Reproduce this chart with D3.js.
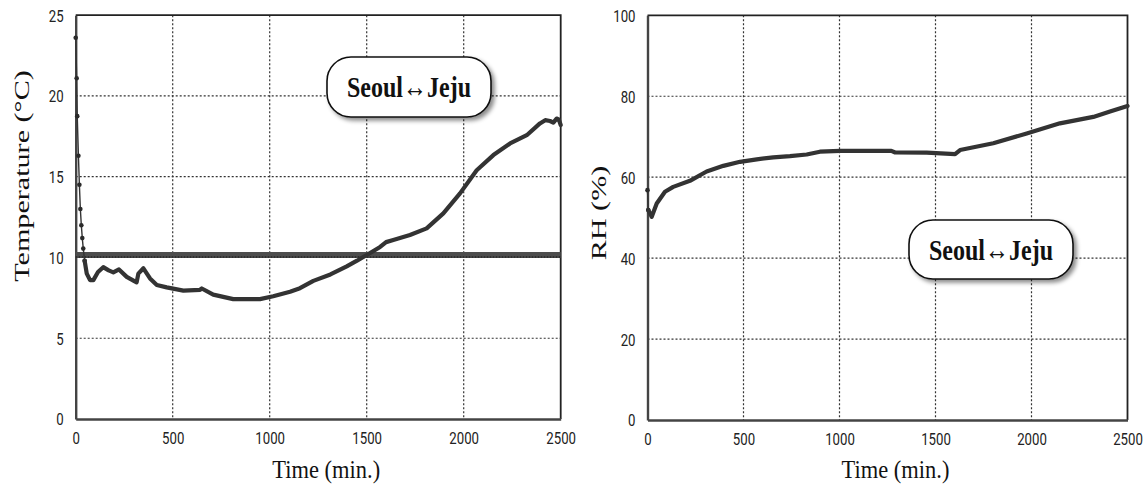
<!DOCTYPE html>
<html>
<head>
<meta charset="utf-8">
<script src="https://cdn.jsdelivr.net/npm/d3@7"></script>
<style>
  body { margin: 0; background: #fff; }
  svg { display: block; }
</style>
</head>
<body>
<svg id="chart" width="1147" height="488"></svg>
<script>
// temperature record (min, °C)
const tempTime = [0, 5, 8, 14, 19, 24, 29, 34, 39, 46, 57, 74, 91, 115, 142, 170, 194, 223, 263, 300, 314, 323, 349, 383, 418, 469, 555, 641, 650, 709, 812, 950, 1018, 1105, 1156, 1225, 1313, 1397, 1450, 1500, 1569, 1600, 1637, 1723, 1809, 1895, 1981, 2067, 2153, 2239, 2325, 2393, 2420, 2445, 2462, 2479, 2490, 2500];
const tempValue = [23.6, 21.1, 18.75, 16.3, 14.5, 13.0, 12.0, 11.2, 10.55, 9.8, 9.0, 8.6, 8.6, 9.1, 9.4, 9.2, 9.08, 9.26, 8.8, 8.55, 8.46, 9.0, 9.33, 8.7, 8.3, 8.15, 7.95, 8.0, 8.08, 7.7, 7.42, 7.42, 7.6, 7.88, 8.1, 8.55, 8.95, 9.45, 9.8, 10.15, 10.65, 10.95, 11.08, 11.39, 11.8, 12.73, 13.97, 15.4, 16.34, 17.06, 17.57, 18.3, 18.5, 18.45, 18.35, 18.6, 18.55, 18.2];
const tempThreshold = 10.15;

// relative humidity record (min, %)
const rhTime = [0, 4, 22, 48, 91, 134, 221, 308, 395, 482, 569, 655, 742, 829, 898, 1003, 1176, 1270, 1290, 1454, 1602, 1628, 1801, 1975, 2148, 2322, 2409, 2500];
const rhValue = [56.8, 51.9, 50.2, 53.5, 56.4, 57.6, 59.1, 61.4, 62.8, 63.8, 64.4, 64.9, 65.2, 65.6, 66.3, 66.5, 66.5, 66.5, 66.1, 66.05, 65.7, 66.7, 68.4, 70.8, 73.3, 74.9, 76.2, 77.6];

const xTicks = [0, 500, 1000, 1500, 2000, 2500];
const tempTicks = [0, 5, 10, 15, 20, 25];
const rhTicks = [0, 20, 40, 60, 80, 100];
const routeLabel = "Seoul\u2194Jeju";

const svg = d3.select("#chart");

const defs = svg.append("defs");
defs.append("filter")
    .attr("id", "shadow")
    .attr("x", "-20%").attr("y", "-30%").attr("width", "150%").attr("height", "170%")
    .append("feDropShadow")
    .attr("dx", 3).attr("dy", 3)
    .attr("stdDeviation", 2)
    .attr("flood-color", "#000")
    .attr("flood-opacity", 0.45);

function drawPanel({time, values, yMax, yTicks, box, yTitle, dotsUntil, threshold, label, labelBox}) {
    const x = d3.scaleLinear().domain([0, 2500]).range([box.x0, box.x1]);
    const y = d3.scaleLinear().domain([0, yMax]).range([box.y1, box.y0]);
    const g = svg.append("g");

    // dotted grid
    const grid = g.append("g")
        .attr("stroke", "#333")
        .attr("stroke-width", 1.2)
        .attr("stroke-dasharray", "2,2");
    grid.selectAll(".vx")
        .data(xTicks.slice(1, -1))
        .join("line")
        .attr("x1", d => x(d)).attr("x2", d => x(d))
        .attr("y1", box.y0).attr("y2", box.y1);
    grid.selectAll(".hy")
        .data(yTicks.slice(1, -1))
        .join("line")
        .attr("x1", box.x0).attr("x2", box.x1)
        .attr("y1", d => y(d)).attr("y2", d => y(d));

    // frame (top + right)
    g.append("path")
        .attr("d", `M${box.x0},${box.y0}H${box.x1}V${box.y1}`)
        .attr("fill", "none")
        .attr("stroke", "#222")
        .attr("stroke-width", 1.8);

    const xAxis = g.append("g")
        .attr("transform", `translate(0,${box.y1})`)
        .call(d3.axisBottom(x).tickValues(xTicks).tickSize(0).tickPadding(13).tickFormat(d3.format("d")));
    const yAxis = g.append("g")
        .attr("transform", `translate(${box.x0},0)`)
        .call(d3.axisLeft(y).tickValues(yTicks).tickSize(0).tickPadding(12).tickFormat(d3.format("d")));

    [xAxis, yAxis].forEach(a => {
        a.select(".domain").attr("stroke", "#444").attr("stroke-width", 2.4);
        a.selectAll("text")
            .attr("font-family", "Roboto, sans-serif")
            .attr("font-size", 16.5)
            .attr("fill", "#222");
    });
    xAxis.selectAll("text").attr("transform", "scale(0.8,1)");
    yAxis.selectAll("text").attr("x", -12 / 0.8).attr("dy", "0.36em").attr("transform", "scale(0.8,1)");

    // threshold band
    if (threshold !== undefined) {
        g.append("line")
            .attr("x1", box.x0).attr("x2", box.x1)
            .attr("y1", y(threshold)).attr("y2", y(threshold))
            .attr("stroke", "#4d4d4d")
            .attr("stroke-width", 6);
        g.append("line")
            .attr("x1", box.x0).attr("x2", box.x1)
            .attr("y1", y(threshold) + 2).attr("y2", y(threshold) + 2)
            .attr("stroke", "#262626")
            .attr("stroke-width", 1.6)
            .attr("stroke-dasharray", "1.6,1.4");
    }

    const pts = time.map((t, i) => [t, values[i]]);
    const line = d3.line().x(d => x(d[0])).y(d => y(d[1]));

    // sparse early samples drawn thin with markers
    const early = pts.filter(d => d[0] <= dotsUntil + 12);
    g.append("path")
        .attr("d", line(early))
        .attr("fill", "none")
        .attr("stroke", "#333")
        .attr("stroke-width", 1.4);
    g.selectAll(".dot")
        .data(pts.filter(d => d[0] <= dotsUntil))
        .join("circle")
        .attr("cx", d => x(d[0]))
        .attr("cy", d => y(d[1]))
        .attr("r", 2.3)
        .attr("fill", "#2a2a2a");

    g.append("path")
        .attr("d", line(pts.filter(d => d[0] >= dotsUntil)))
        .attr("fill", "none")
        .attr("stroke", "#333")
        .attr("stroke-width", 4.2)
        .attr("stroke-linejoin", "round")
        .attr("stroke-linecap", "round");

    // axis titles
    g.append("text")
        .attr("transform", `translate(${(box.x0 + box.x1) / 2 + 8},478) scale(1,1.12)`)
        .attr("text-anchor", "middle")
        .attr("font-family", "'Liberation Serif', 'Times New Roman', serif")
        .attr("font-size", 22.5)
        .attr("fill", "#111")
        .text("Time (min.)");
    g.append("text")
        .attr("transform", `translate(${yTitle.x},${yTitle.y}) rotate(-90) scale(1.37,1)`)
        .attr("text-anchor", "middle")
        .attr("dy", "0.32em")
        .attr("font-family", "'Liberation Serif', 'Times New Roman', serif")
        .attr("font-size", 22)
        .attr("fill", "#111")
        .text(yTitle.text);

    // route label
    const lb = g.append("g");
    lb.append("rect")
        .attr("x", labelBox.x0).attr("y", labelBox.y0)
        .attr("width", labelBox.x1 - labelBox.x0)
        .attr("height", labelBox.y1 - labelBox.y0)
        .attr("rx", 24).attr("ry", 24)
        .attr("fill", "#fff")
        .attr("stroke", "#111")
        .attr("stroke-width", 1.6)
        .attr("filter", "url(#shadow)");
    lb.append("text")
        .attr("transform", `translate(${(labelBox.x0 + labelBox.x1) / 2},${labelBox.y0 + 40}) scale(1,1.27)`)
        .attr("text-anchor", "middle")
        .attr("font-family", "'Liberation Serif', 'Times New Roman', serif")
        .attr("font-weight", "bold")
        .attr("font-size", 24)
        .attr("fill", "#111")
        .text(label);
}

drawPanel({
    time: tempTime,
    values: tempValue,
    yMax: 25,
    yTicks: tempTicks,
    box: {x0: 75.7, x1: 560.7, y0: 15.2, y1: 419},
    yTitle: {x: 22, y: 176, text: "Temperature (\u00B0C)"},
    dotsUntil: 46,
    threshold: tempThreshold,
    label: routeLabel,
    labelBox: {x0: 327, x1: 491, y0: 57, y1: 117}
});

drawPanel({
    time: rhTime,
    values: rhValue,
    yMax: 100,
    yTicks: rhTicks,
    box: {x0: 647.5, x1: 1127.5, y0: 15.3, y1: 420},
    yTitle: {x: 599, y: 213, text: "RH (%)"},
    dotsUntil: 4,
    label: routeLabel,
    labelBox: {x0: 909, x1: 1073, y0: 220, y1: 279}
});
</script>
</body>
</html>
